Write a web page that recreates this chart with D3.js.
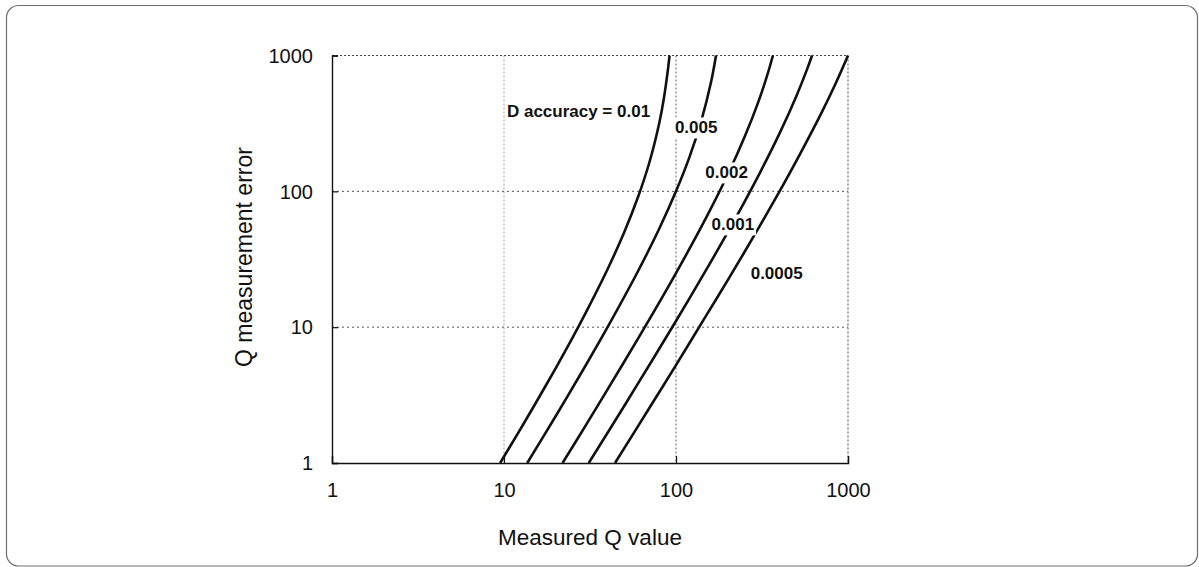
<!DOCTYPE html>
<html>
<head>
<meta charset="utf-8">
<script src="https://cdn.jsdelivr.net/npm/d3@7"></script>
<style>
  html, body { margin: 0; padding: 0; background: #fff; }
  svg { display: block; font-family: "Liberation Sans", Arial, Helvetica, sans-serif; }
</style>
</head>
<body>
<svg id="chart" width="1199" height="567"></svg>
<script>
// ---- data ----
const xTicks = [1, 10, 100, 1000];
const yTicks = [1, 10, 100, 1000];
const xTitle = "Measured Q value";
const yTitle = "Q measurement error";
const seriesLabels = ["D accuracy = 0.01", "0.005", "0.002", "0.001", "0.0005"];

const q_001   = [9.5, 12, 15, 20, 25, 30, 40, 50, 60, 70, 80, 85, 90, 91.7];
const e_001   = [1.0, 1.64, 2.65, 5.0, 8.33, 12.9, 26.7, 50, 90, 163, 320, 482, 810, 1000];
const q_0005  = [13.65, 20, 30, 40, 60, 80, 100, 120, 140, 160, 170.8];
const e_0005  = [1.0, 2.22, 5.29, 10, 25.7, 53.3, 100, 180, 327, 640, 1000];
const q_0002  = [21.9, 30, 50, 70, 100, 150, 200, 250, 300, 340, 366];
const e_0002  = [1.0, 1.91, 5.56, 11.4, 25, 64.3, 133, 250, 450, 723, 1000];
const q_0001  = [31.1, 50, 70, 100, 150, 200, 300, 400, 500, 580, 618];
const e_0001  = [1.0, 2.63, 5.27, 11.1, 26.5, 50, 129, 267, 500, 801, 1000];
const q_00005 = [44.2, 70, 100, 150, 200, 300, 400, 500, 700, 850, 1000];
const e_00005 = [1.0, 2.54, 5.26, 12.2, 22.2, 52.9, 100, 167, 377, 628, 1000];

const seriesQ = [q_001, q_0005, q_0002, q_0001, q_00005];
const seriesE = [e_001, e_0005, e_0002, e_0001, e_00005];

// ---- layout ----
const svg = d3.select("#chart");
const L = 332, R = 848, T = 55.5, B = 463;

// outer frame
svg.append("rect")
  .attr("x", 6.5).attr("y", 5.5)
  .attr("width", 1191).attr("height", 560.5)
  .attr("rx", 12).attr("ry", 12)
  .attr("fill", "none").attr("stroke", "#6f6f6f").attr("stroke-width", 1.2);

const x = d3.scaleLog().domain([1, 1000]).range([L, R]);
const y = d3.scaleLog().domain([1, 1000]).range([B, T]);

// grid lines
const gGrid = svg.append("g");
[10, 100].forEach(v => {
  gGrid.append("line")
    .attr("x1", x(v)).attr("x2", x(v)).attr("y1", T).attr("y2", B)
    .attr("stroke", v === 10 ? "#999" : "#666").attr("stroke-width", 1)
    .attr("stroke-dasharray", "2,2");
  gGrid.append("line")
    .attr("x1", L).attr("x2", R).attr("y1", y(v)).attr("y2", y(v))
    .attr("stroke", "#555").attr("stroke-width", 1)
    .attr("stroke-dasharray", "2,3");
});
// top & right border dotted
gGrid.append("line").attr("x1", L).attr("x2", R).attr("y1", T).attr("y2", T)
  .attr("stroke", "#444").attr("stroke-width", 1).attr("stroke-dasharray", "2,2");
gGrid.append("line").attr("x1", R).attr("x2", R).attr("y1", T).attr("y2", B)
  .attr("stroke", "#444").attr("stroke-width", 1).attr("stroke-dasharray", "2,2");

// axes
const xAxis = d3.axisBottom(x).tickValues(xTicks).tickFormat(d3.format("d")).tickSize(-7).tickPadding(20);
const yAxis = d3.axisLeft(y).tickValues(yTicks).tickFormat(d3.format("d")).tickSize(-6).tickPadding(19);

const gx = svg.append("g").attr("transform", `translate(0,${B})`).call(xAxis);
const gy = svg.append("g").attr("transform", `translate(${L},0)`).call(yAxis);
[gx, gy].forEach(g => {
  g.select(".domain").attr("stroke", "#111").attr("stroke-width", 1.4);
  g.selectAll(".tick line").attr("stroke", "#111").attr("stroke-width", 1.2);
  g.selectAll(".tick text").attr("fill", "#111").style("font-size", "20px")
    .style("font-family", '"Liberation Sans", Arial, sans-serif');
});
gx.selectAll(".tick text").attr("dy", "0.71em");
gy.selectAll(".tick text").attr("dy", "0.34em");

// axis titles
svg.append("text").attr("x", 590).attr("y", 545).attr("text-anchor", "middle")
  .style("font-size", "22.5px").attr("fill", "#111").text(xTitle);
svg.append("text").attr("transform", "translate(252,257) rotate(-90)").attr("text-anchor", "middle")
  .style("font-size", "23px").attr("fill", "#111").text(yTitle);

// curves
svg.append("clipPath").attr("id", "clip").append("rect")
  .attr("x", L).attr("y", T - 1).attr("width", R - L + 1).attr("height", B - T + 1);

const line = d3.line().x(d => x(d[0])).y(d => y(d[1])).curve(d3.curveCatmullRom.alpha(0.5));
const gCurves = svg.append("g").attr("clip-path", "url(#clip)");
seriesQ.forEach((qs, i) => {
  const pts = qs.map((q, j) => [q, seriesE[i][j]]);
  gCurves.append("path").attr("d", line(pts))
    .attr("fill", "none").attr("stroke", "#111").attr("stroke-width", 2.6)
    .attr("stroke-linejoin", "round");
});

// labels (anchored at data coordinates near each curve)
const labelSpecs = [
  { i: 0, q: 10.4, e: 394,  anchor: "start",  bg: false },
  { i: 1, q: 131,  e: 296,  anchor: "middle", bg: true },
  { i: 2, q: 197,  e: 138,  anchor: "middle", bg: true },
  { i: 3, q: 214,  e: 57.2, anchor: "middle", bg: true },
  { i: 4, q: 385,  e: 25.1, anchor: "middle", bg: false }
];
const gLab = svg.append("g");
labelSpecs.forEach(s => {
  const t = gLab.append("text")
    .attr("x", x(s.q)).attr("y", y(s.e)).attr("dy", "0.36em")
    .attr("text-anchor", s.anchor)
    .style("font-size", "17px").style("font-weight", "bold")
    .attr("fill", "#111").text(seriesLabels[s.i]);
  if (s.bg) {
    const bb = t.node().getBBox();
    gLab.insert("rect", "text")
      .attr("x", bb.x - 2).attr("y", bb.y - 1)
      .attr("width", bb.width + 4).attr("height", bb.height + 2)
      .attr("fill", "#fff");
  }
});
</script>
</body>
</html>
